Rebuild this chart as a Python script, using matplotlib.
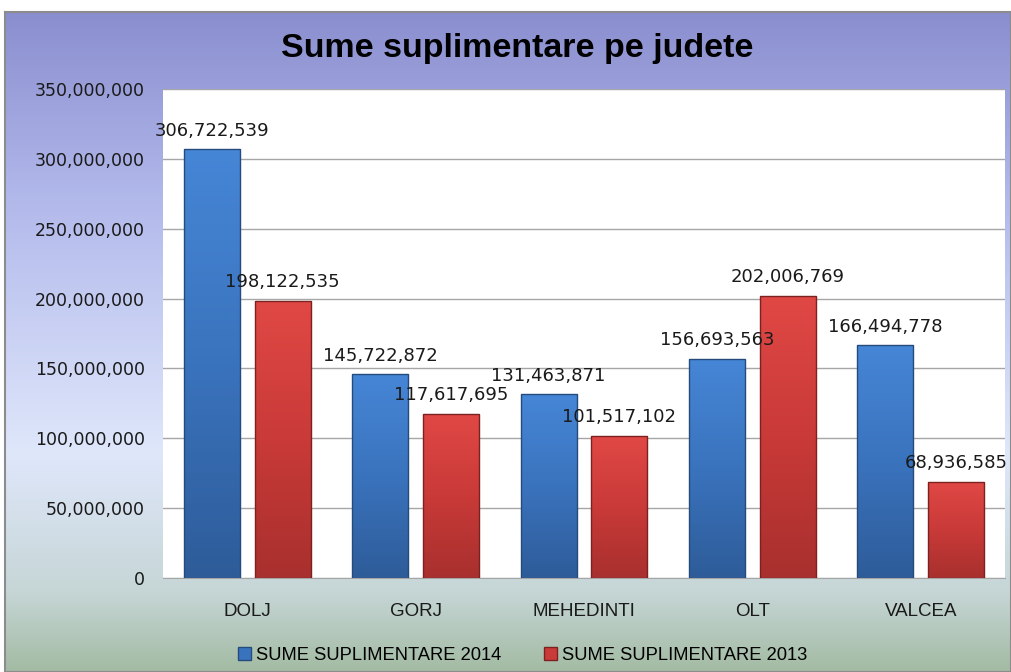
import matplotlib
matplotlib.use("Agg")
import matplotlib.pyplot as plt
import numpy as np
from matplotlib.colors import LinearSegmentedColormap
from matplotlib.patches import Patch

# date
judete = ["DOLJ", "GORJ", "MEHEDINTI", "OLT", "VALCEA"]
sume_2014 = [306722539, 145722872, 131463871, 156693563, 166494778]
sume_2013 = [198122535, 117617695, 101517102, 202006769, 68936585]
serii = ["SUME SUPLIMENTARE 2014", "SUME SUPLIMENTARE 2013"]
y_ticks = [0, 50000000, 100000000, 150000000, 200000000, 250000000, 300000000, 350000000]

NARROW = ["Liberation Sans Narrow", "Liberation Sans", "DejaVu Sans"]

fig = plt.figure(figsize=(10.11, 6.72), dpi=100)

# fundal cu gradient (chenarul graficului)
bg = fig.add_axes([5 / 1011, 0, 1006 / 1011, 660 / 672], zorder=-5)
bg_cmap = LinearSegmentedColormap.from_list(
    "bg", [(0.0, "#a3bba3"), (0.12, "#c6d6d6"), (0.33, "#dfe7fb"),
           (0.7, "#b4bbec"), (1.0, "#8a8ecf")])
bg.imshow(np.linspace(0, 1, 256).reshape(-1, 1), cmap=bg_cmap, aspect="auto",
          origin="lower", extent=[0, 1, 0, 1])
bg.set_xlim(0, 1)
bg.set_ylim(0, 1)
bg.set_xticks([])
bg.set_yticks([])
for s in bg.spines.values():
    s.set_color("#8c8c8c")
    s.set_linewidth(1.5)

ax = fig.add_axes([163 / 1011, 1 - 578 / 672, 842 / 1011, 489 / 672])
ax.set_facecolor("white")

x = np.arange(len(judete))
w = 0.333
offs = 0.21
blue_cmap = LinearSegmentedColormap.from_list("b", ["#2e5c99", "#3a73bd", "#4686d6"])
red_cmap = LinearSegmentedColormap.from_list("r", ["#a8302e", "#c93a38", "#e04845"])
grad = np.linspace(0, 1, 128).reshape(-1, 1)

for vals, dx, cmap, edge in [(sume_2014, -offs, blue_cmap, "#254b7d"),
                             (sume_2013, offs, red_cmap, "#7d2120")]:
    bars = ax.bar(x + dx, vals, w, color="none", edgecolor=edge, linewidth=1.0, zorder=3)
    for b, v in zip(bars, vals):
        x0 = b.get_x()
        im = ax.imshow(grad, cmap=cmap, aspect="auto", origin="lower",
                       extent=[x0, x0 + w, 0, v], zorder=2)
        im.set_clip_path(b)
        ax.text(x0 + w / 2, v + 7e6, f"{v:,}", ha="center", va="bottom",
                fontsize=13, color="#1a1a1a", zorder=4)

ax.set_xlim(-0.5, len(judete) - 0.5)
ax.set_ylim(0, 350000000)
ax.set_yticks(y_ticks)
ax.set_yticklabels([f"{t:,}" for t in y_ticks], fontsize=12.5, color="#1a1a1a")
ax.set_xticks(x)
ax.set_xticklabels(judete, fontsize=13.5, family=NARROW, color="#1a1a1a")
ax.tick_params(axis="y", length=0, pad=13)
ax.tick_params(axis="x", length=0, pad=18)
ax.grid(axis="y", color="#a6a6a6", linewidth=1.0, zorder=0)
ax.set_axisbelow(True)
for side in ["left", "top", "right"]:
    ax.spines[side].set_visible(False)
ax.spines["bottom"].set_color("#a6a6a6")

fig.text(0.512, 1 - 48 / 672, "Sume suplimentare pe judete", ha="center", va="center",
         fontsize=24.5, fontweight="bold", family=NARROW, color="black")

handles = [Patch(facecolor="#3a73bd", edgecolor="#254b7d", label=serii[0]),
           Patch(facecolor="#c93a38", edgecolor="#7d2120", label=serii[1])]
fig.legend(handles=handles, loc="center", bbox_to_anchor=(0.517, 1 - 655 / 672), ncol=2,
           frameon=False, prop={"family": NARROW, "size": 13.2},
           handlelength=0.7, handleheight=0.7, handletextpad=0.3, columnspacing=2.3)

fig.savefig("out.png", dpi=100)
